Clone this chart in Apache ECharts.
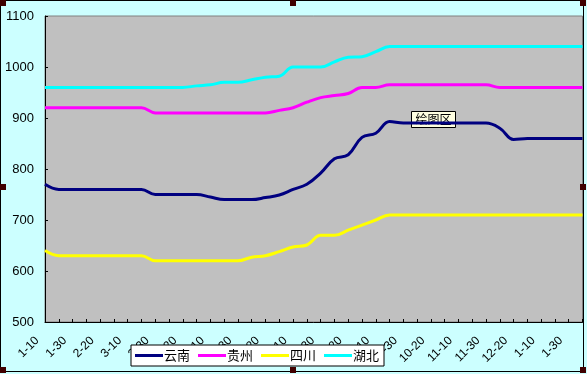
<!DOCTYPE html>
<html>
<head>
<meta charset="utf-8">
<script src="https://cdn.jsdelivr.net/npm/echarts@6/dist/echarts.min.js"></script>
<style>
html,body{margin:0;padding:0;background:#CCFFFF;}
#main{width:587px;height:374px;}
</style>
</head>
<body>
<div id="main"></div>
<script>
var categories = ["1-10","1-20","1-30","2-10","2-20","2-30","3-10","3-20","3-30","4-10","4-20","4-30",
  "5-10","5-20","5-30","6-10","6-20","6-30","7-10","7-20","7-30","8-10","8-20","8-30",
  "9-10","9-20","9-30","10-10","10-20","10-30","11-10","11-20","11-30","12-10","12-20","12-30",
  "1-10","1-20","1-30","2-10"];
var seriesNames = ["云南","贵州","四川","湖北"];
var yunnan = [770,760,760,760,760,760,760,760,750,750,750,750,745,740,740,740,744,749,760,770,
  792,820,828,862,870,893,890,890,890,890,890,890,890,880,858,860,860,860,860,860];
var guizhou = [920,920,920,920,920,920,920,920,910,910,910,910,910,910,910,910,910,915,920,931,
  940,944,948,960,960,965,965,965,965,965,965,965,965,960,960,960,960,960,960,960];
var sichuan = [640,630,630,630,630,630,630,630,620,620,620,620,620,620,620,627,630,638,647,651,
  670,670,680,690,700,710,710,710,710,710,710,710,710,710,710,710,710,710,710,710];
var hubei = [960,960,960,960,960,960,960,960,960,960,960,963,965,970,970,975,980,982,1000,1000,
  1000,1010,1019,1020,1030,1040,1040,1040,1040,1040,1040,1040,1040,1040,1040,1040,1040,1040,1040,1040];
var yTicks = {min:500, max:1100, interval:100};
var colors = ["#000080","#FF00FF","#FFFF00","#00FFFF"];
var plotLabel = "绘图区";

var chart = echarts.init(document.getElementById('main'), null, {renderer:'canvas'});
var allData = [yunnan, guizhou, sichuan, hubei];
var handles = [[0,0],[290,0],[580,0],[0,184],[580,184],[0,367],[290,367],[580,367]];
var graphics = [{
  type:'rect', z:100, silent:true,
  shape:{x:0.5,y:0.5,width:583,height:371},
  style:{fill:null, stroke:'#000', lineWidth:1}
}];
handles.forEach(function(h){
  graphics.push({type:'rect', z:101, silent:true, shape:{x:h[0],y:h[1],width:6,height:6}, style:{fill:'#400000'}});
});
graphics.push({
  type:'group', left:411, top:111, z:50,
  children:[
    {type:'rect', shape:{x:0,y:0,width:44,height:16}, style:{fill:'#FFFFE1', stroke:'#000', lineWidth:1}},
    {type:'text', x:4, y:2, style:{text:plotLabel, font:'12px "Noto Sans CJK SC"', fill:'#000'}}
  ]
});

chart.setOption({
  animation:false,
  backgroundColor:'#CCFFFF',
  grid:{left:45, top:16, right:4.5, bottom:52, show:true, backgroundColor:'#C0C0C0', borderColor:'#808080', borderWidth:1, containLabel:false},
  legend:{
    left:131, top:345, orient:'horizontal',
    data:seriesNames, selectedMode:false,
    backgroundColor:'#FFFFFF', borderColor:'#000', borderWidth:1,
    padding:[4,5,4,4], itemGap:8, itemWidth:28, itemHeight:3, icon:'rect',
    textStyle:{fontSize:13, fontFamily:'"Noto Sans CJK SC"', color:'#000', padding:[0,0,0,-4]},
    z:10
  },
  xAxis:{
    type:'category', data:categories, boundaryGap:false,
    axisLine:{lineStyle:{color:'#000', width:1}},
    axisTick:{show:true, inside:true, length:3, interval:0, lineStyle:{color:'#000'}},
    axisLabel:{interval:1, rotate:45, fontSize:12, color:'#000', fontFamily:'"Liberation Sans", Arial', margin:9, padding:[0,11,0,0]},
    splitLine:{show:false}
  },
  yAxis:{
    type:'value', min:yTicks.min, max:yTicks.max, interval:yTicks.interval,
    axisLine:{show:true, lineStyle:{color:'#000', width:1}},
    axisTick:{show:true, inside:true, length:3, lineStyle:{color:'#000'}},
    axisLabel:{fontSize:13, color:'#000', fontFamily:'"Liberation Sans", Arial', margin:11,
      formatter:function(v){ return String(v); }},
    splitLine:{show:false}
  },
  series: seriesNames.map(function(n,i){
    return {name:n, type:'line', data:allData[i], smooth:0.4, showSymbol:false, symbol:'none',
      lineStyle:{color:colors[i], width:3}, itemStyle:{color:colors[i]}};
  }),
  graphic:graphics
});
</script>
</body>
</html>
